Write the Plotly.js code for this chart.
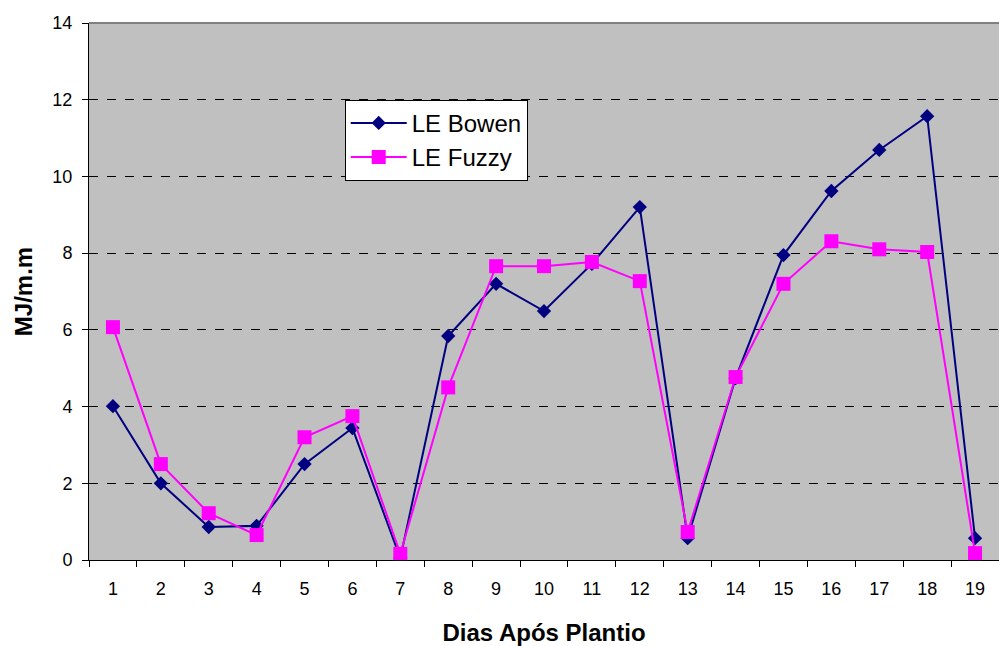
<!DOCTYPE html>
<html>
<head>
<meta charset="utf-8">
<script src="https://cdn.plot.ly/plotly-3.0.1.min.js"></script>
<style>html,body{margin:0;padding:0;background:#fff;}#chart{width:999px;height:646px;}</style>
</head>
<body>
<div id="chart"></div>
<script>
const categories = ["1","2","3","4","5","6","7","8","9","10","11","12","13","14","15","16","17","18","19"];
const leBowen = [4.01, 2.0, 0.86, 0.89, 2.5, 3.44, 0.05, 5.84, 7.2, 6.49, 7.72, 9.2, 0.57, 4.74, 7.95, 9.62, 10.69, 11.57, 0.57];
const leFuzzy = [6.07, 2.5, 1.22, 0.65, 3.2, 3.75, 0.16, 4.5, 7.66, 7.66, 7.77, 7.27, 0.73, 4.77, 7.2, 8.31, 8.1, 8.03, 0.18];
const yTicks = [0, 2, 4, 6, 8, 10, 12, 14];

const traces = [
  {x: categories, y: leBowen, name: "LE Bowen", type: "scatter", mode: "lines+markers",
   line: {color: "#000080", width: 2}, marker: {symbol: "diamond", size: 11, color: "#000080"}},
  {x: categories, y: leFuzzy, name: "LE Fuzzy", type: "scatter", mode: "lines+markers",
   line: {color: "#FF00FF", width: 2}, marker: {symbol: "square", size: 14, color: "#FF00FF"}}
];

const layout = {
  width: 999, height: 646,
  margin: {l: 89, r: 0, t: 23, b: 86},
  paper_bgcolor: "#ffffff",
  plot_bgcolor: "#C0C0C0",
  font: {family: "Liberation Sans, Arial, sans-serif", size: 18, color: "#000"},
  showlegend: true,
  legend: {x: 0.281, y: 0.857, xanchor: "left", yanchor: "top",
    bgcolor: "#ffffff", bordercolor: "#000", borderwidth: 1, itemwidth: 56,
    font: {size: 24, family: "Liberation Sans, Arial, sans-serif"}, tracegroupgap: 0},
  xaxis: {type: "category", range: [-0.5, 18.5], tickson: "boundaries",
    ticks: "outside", ticklen: 6, tickcolor: "#000", showline: true, linecolor: "#000", linewidth: 1,
    showgrid: false, zeroline: false, ticklabelstandoff: 12,
    tickfont: {size: 18},
    title: {text: "<b>Dias Após Plantio</b>", font: {size: 24}, standoff: 26}},
  yaxis: {range: [0, 14], tickvals: yTicks, ticks: "outside", ticklen: 6, tickcolor: "#000",
    showline: true, linecolor: "#000", linewidth: 1, ticklabelstandoff: 6,
    showgrid: true, gridcolor: "#000", griddash: "dash", gridwidth: 1,
    zeroline: false, tickfont: {size: 18},
    title: {text: "<b>MJ/m.m</b>", font: {size: 24}, standoff: 12}},
  shapes: [
    {type: "line", xref: "paper", yref: "paper", x0: 0, x1: 1, y0: 1, y1: 1, line: {color: "#808080", width: 2}}
  ]
};

Plotly.newPlot("chart", traces, layout, {displayModeBar: false, staticPlot: true});
</script>
</body>
</html>
